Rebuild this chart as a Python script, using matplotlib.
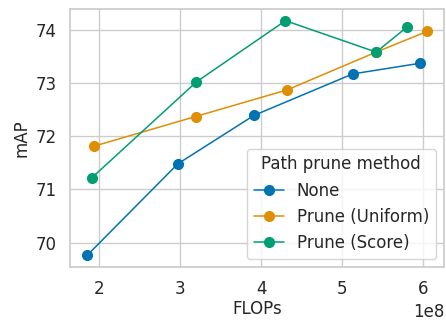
import numpy as np
import matplotlib.pyplot as plt
import seaborn as sns

sns.set_theme(style="whitegrid", palette="colorblind")
plt.rcParams['font.family'] = ['DejaVu Sans']

# FLOPs (x1e8) and mAP for each path prune method
flops_none = [1.85e8, 2.97e8, 3.91e8, 5.13e8, 5.96e8]
map_none = [69.76, 71.48, 72.39, 73.17, 73.37]
flops_uniform = [1.93e8, 3.19e8, 4.32e8, 5.42e8, 6.05e8]
map_uniform = [71.81, 72.37, 72.87, 73.58, 73.97]
flops_score = [1.91e8, 3.20e8, 4.30e8, 5.42e8, 5.80e8]
map_score = [71.22, 73.02, 74.17, 73.58, 74.05]
labels = ["None", "Prune (Uniform)", "Prune (Score)"]

fig, ax = plt.subplots(figsize=(4.46, 3.2), dpi=100)
colors = sns.color_palette("colorblind")
for i, (x, y) in enumerate([(flops_none, map_none),
                            (flops_uniform, map_uniform),
                            (flops_score, map_score)]):
    ax.plot(x, y, marker="o", markersize=7, linewidth=1.1,
            color=colors[i], label=labels[i])

ax.set_xlabel("FLOPs", fontsize=12, labelpad=1)
ax.set_ylabel("mAP", fontsize=12)
ax.tick_params(labelsize=12)
ax.xaxis.get_offset_text().set_fontsize(12)
ax.legend(title="Path prune method", loc="lower right",
          fontsize=12, title_fontsize=12, handlelength=1.8)

plt.subplots_adjust(left=0.157, right=0.996, top=0.972, bottom=0.165)
plt.savefig("out.png", dpi=100)
